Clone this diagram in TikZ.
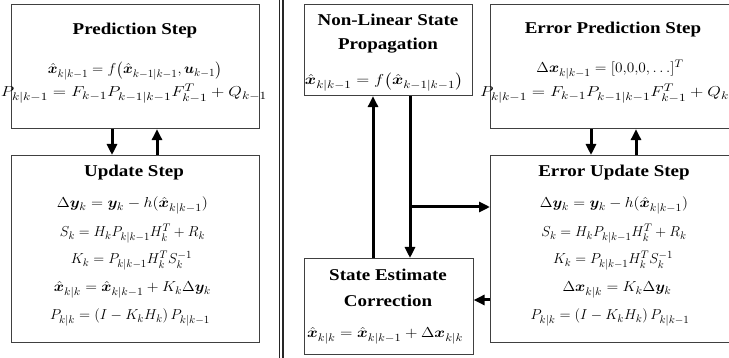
\documentclass[tikz,border=0pt]{standalone}
\usepackage{amsmath,bm,graphicx}
\usepackage{fontspec}
\setmainfont{Liberation Serif}
\DeclareMathSizes{14.5}{14.5}{11.3}{9}
\usetikzlibrary{arrows.meta}
\newcommand{\xh}{\hat{\bm{x}}}
\newcommand{\fw}[2]{\resizebox{#1pt}{\height}{$#2$}}
\begin{document}
\begin{tikzpicture}[x=1pt,y=-1pt,
 box/.style={draw=black!75, line width=1.1pt, inner sep=0pt, anchor=north west},
 ttl/.style={font=\fontsize{16.5}{20}\selectfont\bfseries, anchor=base, inner sep=0pt, xscale=1.15},
 eq/.style={font=\fontsize{14.5}{17}\selectfont, anchor=base, inner sep=0pt},
 arr/.style={line width=3pt, -{Triangle[length=11pt,width=10pt]}},
 sep/.style={line width=1.2pt, black!85}]
\useasboundingbox (0,0) rectangle (729,358);
% boxes
\node[box, minimum width=248pt, minimum height=124pt] (pred) at (11,4) {};
\node[box, minimum width=248pt, minimum height=187pt] (upd) at (11,155) {};
\node[box, minimum width=168pt, minimum height=91pt] (nl) at (304,4) {};
\node[box, minimum width=169pt, minimum height=96pt] (state) at (303.5,258) {};
\node[box, minimum width=246pt, minimum height=124pt] (epred) at (490,4) {};
\node[box, minimum width=246pt, minimum height=187pt] (eupd) at (490,155) {};
% separator
\draw[sep] (279.5,0) -- (279.5,358);
\draw[sep] (283,0) -- (283,358);
% left texts
\node[ttl] (t1) at (135,35) {Prediction Step};
\node[eq] (e11) at (135,74) {\fw{174}{\xh_{k|k-1} = f\big(\xh_{k-1|k-1}, \bm{u}_{k-1}\big)}};
\node[eq] (e12) at (134,97) {\fw{266}{P_{k|k-1} = F_{k-1}P_{k-1|k-1}F_{k-1}^{T} + Q_{k-1}}};
\node[ttl] (t2) at (134,177) {Update Step};
\node[eq] (e21) at (132.5,208) {\fw{151}{\Delta\bm{y}_k = \bm{y}_k - h(\xh_{k|k-1})}};
\node[eq] (e22) at (132.5,237) {\fw{145}{S_k = H_k P_{k|k-1} H_k^{T} + R_k}};
\node[eq] (e23) at (131.5,264) {\fw{121}{K_k = P_{k|k-1} H_k^{T} S_k^{-1}}};
\node[eq] (e24) at (132.5,292) {\fw{157}{\xh_{k|k} = \xh_{k|k-1} + K_k \Delta\bm{y}_k}};
\node[eq] (e25) at (130,320) {\fw{160}{P_{k|k} = (I - K_k H_k)\, P_{k|k-1}}};
% middle texts
\node[ttl] (t3) at (388,26) {Non-Linear State};
\node[ttl] (t4) at (388,50) {Propagation};
\node[eq] (e31) at (384,85) {\fw{158}{\xh_{k|k-1} = f\big(\xh_{k-1|k-1}\big)}};
\node[ttl] (t5) at (388,281) {State Estimate};
\node[ttl] (t6) at (388,307) {Correction};
\node[eq] (e41) at (385,338) {\fw{156}{\xh_{k|k} = \xh_{k|k-1} + \Delta\bm{x}_{k|k}}};
% right texts
\node[ttl] (t7) at (613,34) {Error Prediction Step};
\node[eq] (e51) at (610,73) {\fw{147}{\Delta\bm{x}_{k|k-1} = [0{,}0{,}0, \ldots]^{T}}};
\node[eq] (e52) at (613,97) {\fw{266}{P_{k|k-1} = F_{k-1}P_{k-1|k-1}F_{k-1}^{T} + Q_{k-1}}};
\node[ttl] (t8) at (614,177) {Error Update Step};
\node[eq] (e61) at (614,208) {\fw{148}{\Delta\bm{y}_k = \bm{y}_k - h(\xh_{k|k-1})}};
\node[eq] (e62) at (614,237) {\fw{145}{S_k = H_k P_{k|k-1} H_k^{T} + R_k}};
\node[eq] (e63) at (613,264) {\fw{120}{K_k = P_{k|k-1} H_k^{T} S_k^{-1}}};
\node[eq] (e64) at (617,292) {\fw{109}{\Delta\bm{x}_{k|k} = K_k \Delta\bm{y}_k}};
\node[eq] (e65) at (610,320) {\fw{159}{P_{k|k} = (I - K_k H_k)\, P_{k|k-1}}};
% connector coordinates
\coordinate (a1) at (112,0);
\coordinate (a2) at (157,0);
\coordinate (a3) at (591,0);
\coordinate (a4) at (636,0);
\coordinate (u1) at (373,0);
\coordinate (d2) at (410,0);
\coordinate (br) at (410,207);
\coordinate (r1) at (0,300);
% connectors
\draw[arr] (pred.south -| a1) -- (upd.north -| a1);
\draw[arr] (upd.north -| a2) -- (pred.south -| a2);
\draw[arr] (epred.south -| a3) -- (eupd.north -| a3);
\draw[arr] (eupd.north -| a4) -- (epred.south -| a4);
\draw[arr] (state.north -| u1) -- (nl.south -| u1);
\draw[arr] (nl.south -| d2) -- (state.north -| d2);
\draw[arr] (br) -- (eupd.west |- br);
\draw[arr] (eupd.west |- r1) -- (state.east |- r1);
\end{tikzpicture}
\end{document}
